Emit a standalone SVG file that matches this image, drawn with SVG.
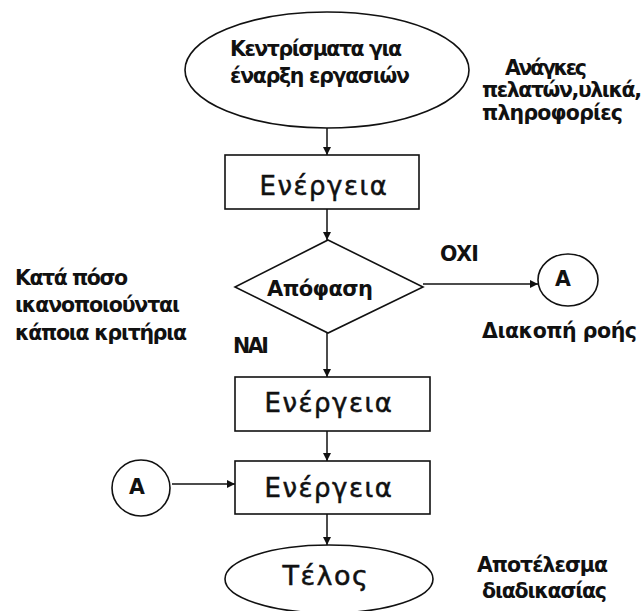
<svg xmlns="http://www.w3.org/2000/svg" width="643" height="611" viewBox="0 0 643 611">
  <style>
    .shape { fill: #ffffff; stroke: #111111; stroke-width: 1.6; }
    .line { fill: none; stroke: #111111; stroke-width: 1.5; }
    .lbl { font-family: "DejaVu Sans", Verdana, sans-serif; font-weight: bold; font-size: 20.5px; fill: #111111; }
    .act { font-family: "DejaVu Sans", Verdana, sans-serif; font-size: 26px; letter-spacing: 1.5px; fill: #111111; stroke: #111111; stroke-width: 0.5; text-anchor: middle; }
    .mid { text-anchor: middle; }
  </style>
  <defs>
    <marker id="arrow" viewBox="0 0 10 10" refX="10" refY="5" markerWidth="9" markerHeight="8" markerUnits="userSpaceOnUse" orient="auto">
      <path d="M0,0 L10,5 L0,10 z" fill="#111111"/>
    </marker>
  </defs>

  <!-- connectors -->
  <g id="connectors">
    <line class="line" x1="327" y1="128" x2="327" y2="155" marker-end="url(#arrow)"/>
    <line class="line" x1="327" y1="209" x2="327" y2="240" marker-end="url(#arrow)"/>
    <line class="line" x1="423" y1="284" x2="538" y2="284" marker-end="url(#arrow)"/>
    <line class="line" x1="327" y1="333" x2="327" y2="377" marker-end="url(#arrow)"/>
    <line class="line" x1="327" y1="431" x2="327" y2="461" marker-end="url(#arrow)"/>
    <line class="line" x1="172" y1="484" x2="235" y2="484" marker-end="url(#arrow)"/>
    <line class="line" x1="327" y1="514" x2="327" y2="545" marker-end="url(#arrow)"/>
  </g>

  <!-- start terminal -->
  <g id="start">
    <ellipse class="shape" cx="327" cy="70" rx="142" ry="58"/>
    <text class="lbl" x="230" y="56" textLength="172" lengthAdjust="spacing">Κεντρίσματα για</text>
    <text class="lbl" x="230" y="83" textLength="180" lengthAdjust="spacing">έναρξη εργασιών</text>
  </g>

  <g id="inputs-note">
    <text class="lbl" x="505" y="75" textLength="82" lengthAdjust="spacing">Ανάγκες</text>
    <text class="lbl" x="482" y="97" textLength="160" lengthAdjust="spacing">πελατών,υλικά,</text>
    <text class="lbl" x="482" y="120" textLength="141" lengthAdjust="spacing">πληροφορίες</text>
  </g>

  <!-- first action -->
  <g id="action1">
    <rect class="shape" x="225" y="155" width="194" height="54"/>
    <text class="act" x="324" y="195">Ενέργεια</text>
  </g>

  <!-- decision -->
  <g id="decision">
    <polygon class="shape" points="328,240 423,287 328,333 235,287"/>
    <text class="lbl" x="267" y="296" textLength="106" lengthAdjust="spacing" style="font-size:21px">Απόφαση</text>
  </g>

  <g id="criteria-note">
    <text class="lbl" x="15" y="285" textLength="113" lengthAdjust="spacing">Κατά πόσο</text>
    <text class="lbl" x="15" y="312" textLength="165" lengthAdjust="spacing">ικανοποιούνται</text>
    <text class="lbl" x="15" y="340" textLength="172" lengthAdjust="spacing">κάποια κριτήρια</text>
  </g>

  <g id="branch-labels">
    <text class="lbl" x="440" y="261" textLength="39" lengthAdjust="spacing">OXI</text>
    <text class="lbl" x="233" y="353" textLength="36" lengthAdjust="spacing">NAI</text>
  </g>

  <!-- off-page connector (out) -->
  <g id="connector-out">
    <ellipse class="shape" cx="568" cy="280" rx="30" ry="26"/>
    <text class="lbl mid" x="563" y="286">A</text>
    <text class="lbl" x="482" y="338" textLength="155" lengthAdjust="spacing">Διακοπή ροής</text>
  </g>

  <!-- second action -->
  <g id="action2">
    <rect class="shape" x="235" y="377" width="195" height="54"/>
    <text class="act" x="329" y="412">Ενέργεια</text>
  </g>

  <!-- third action -->
  <g id="action3">
    <rect class="shape" x="235" y="461" width="195" height="53"/>
    <text class="act" x="329" y="497">Ενέργεια</text>
  </g>

  <!-- off-page connector (in) -->
  <g id="connector-in">
    <ellipse class="shape" cx="141" cy="488" rx="29" ry="28"/>
    <text class="lbl mid" x="137" y="494">A</text>
  </g>

  <!-- end terminal -->
  <g id="end">
    <ellipse class="shape" cx="329" cy="579" rx="104" ry="34"/>
    <text class="act" x="326" y="585" style="font-size:27px">Τέλος</text>
  </g>

  <g id="result-note">
    <text class="lbl" x="477" y="572" textLength="131" lengthAdjust="spacing">Αποτέλεσμα</text>
    <text class="lbl" x="482" y="598" textLength="125" lengthAdjust="spacing">διαδικασίας</text>
  </g>
</svg>
